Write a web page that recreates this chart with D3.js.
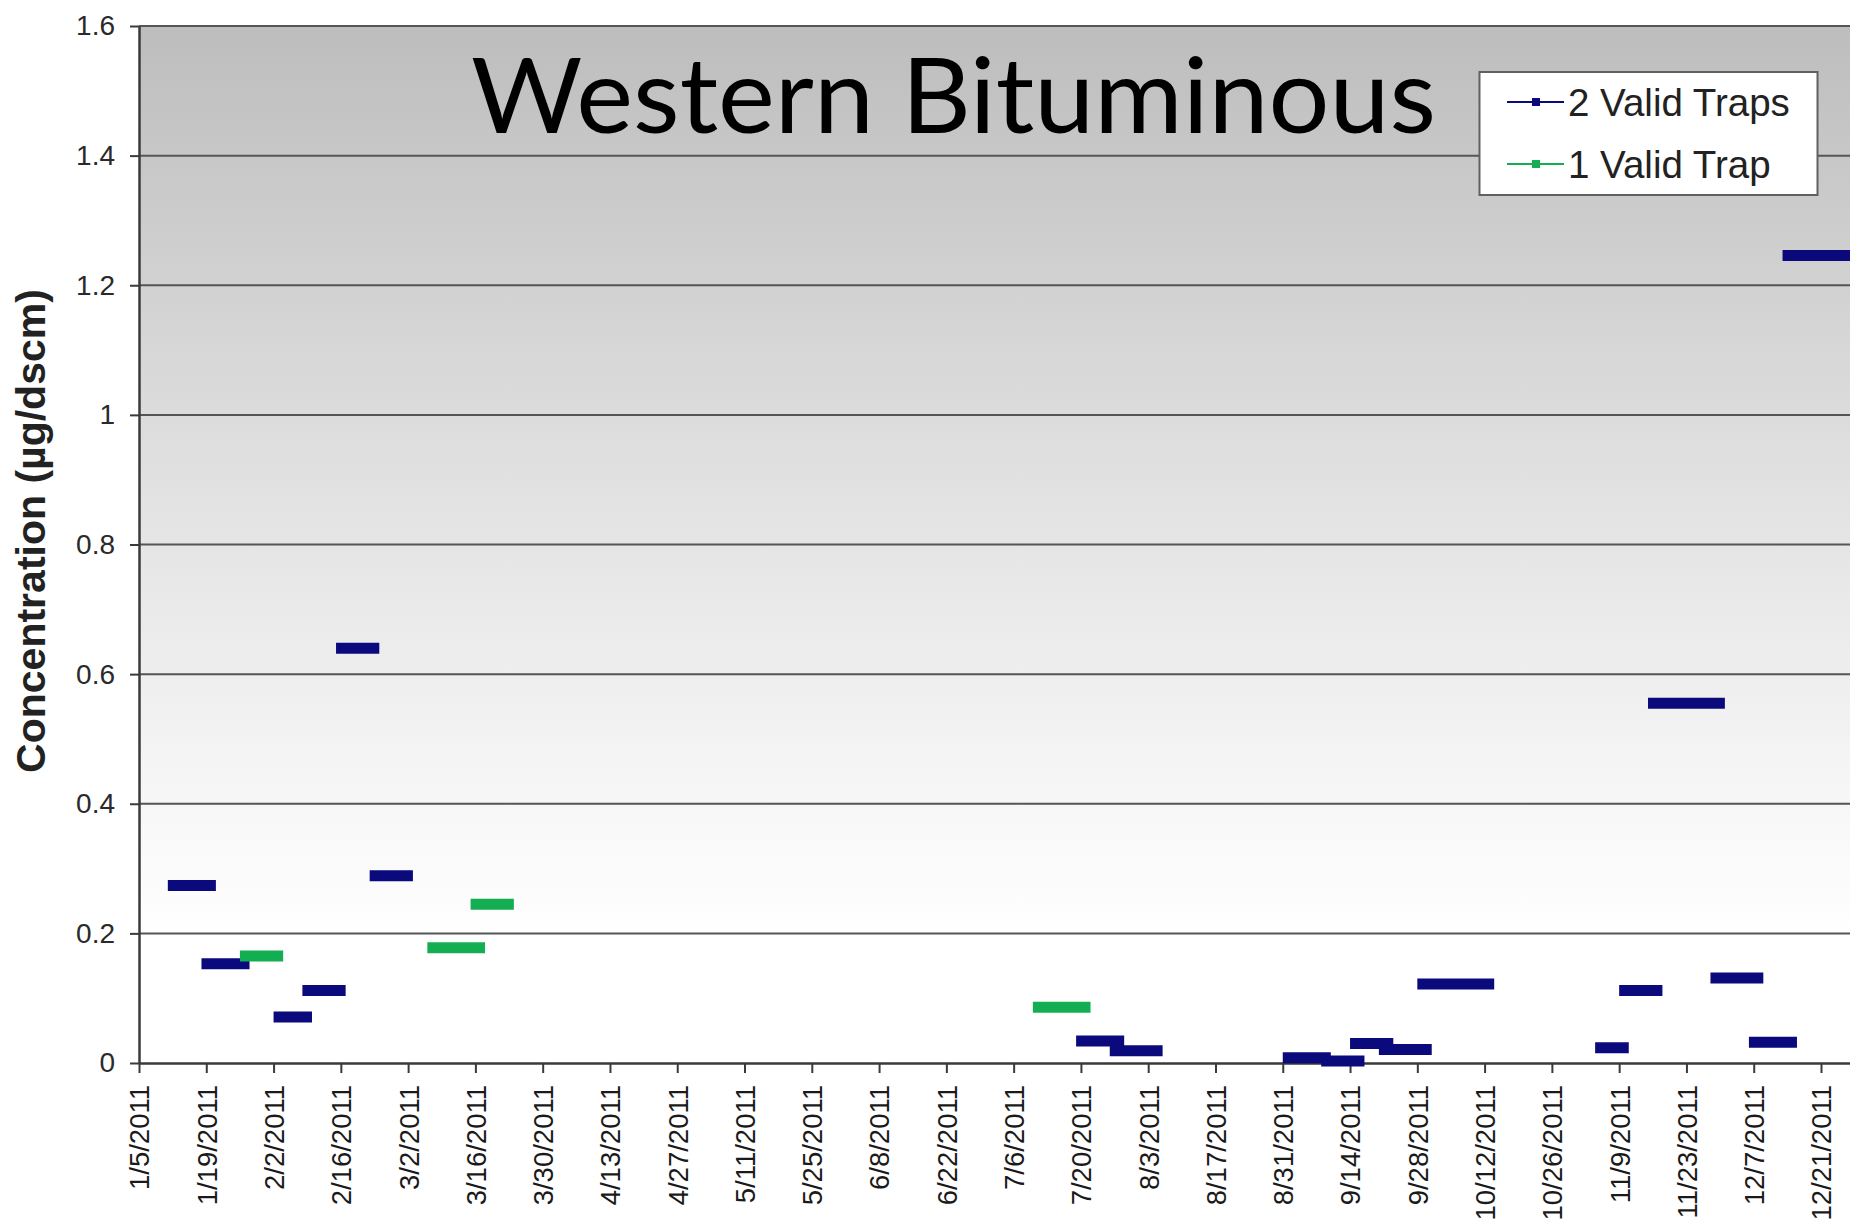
<!DOCTYPE html>
<html>
<head>
<meta charset="utf-8">
<script src="https://cdn.jsdelivr.net/npm/d3@7"></script>
<style>
  body { margin: 0; background: #fff; }
  svg { display: block; }
</style>
</head>
<body>
<div id="chart"></div>
<script>
// sampling periods (visible start / end of each segment)
const twoTrapStart = ["2011-01-11", "2011-01-18", "2011-02-02", "2011-02-08", "2011-02-15", "2011-02-22",
    "2011-07-19", "2011-07-26", "2011-08-31", "2011-09-08", "2011-09-14", "2011-09-20", "2011-09-28",
    "2011-11-04", "2011-11-09", "2011-11-15", "2011-11-28", "2011-12-06", "2011-12-13"];
const twoTrapEnd = ["2011-01-21", "2011-01-28", "2011-02-10", "2011-02-17", "2011-02-24", "2011-03-03",
    "2011-07-29", "2011-08-06", "2011-09-10", "2011-09-17", "2011-09-23", "2011-10-01", "2011-10-14",
    "2011-11-11", "2011-11-18", "2011-12-01", "2011-12-09", "2011-12-16", "2011-12-29"];
const twoTrapValue = [0.274, 0.153, 0.071, 0.112, 0.640, 0.289,
    0.034, 0.019, 0.008, 0.003, 0.030, 0.021, 0.122,
    0.0235, 0.112, 0.555, 0.131, 0.032, 1.246];

const oneTrapStart = ["2011-01-26", "2011-03-06", "2011-03-15", "2011-07-10"];
const oneTrapEnd = ["2011-02-04", "2011-03-18", "2011-03-24", "2011-07-22"];
const oneTrapValue = [0.165, 0.178, 0.245, 0.086];

const xTickDates = ["2011-01-05", "2011-01-19", "2011-02-02", "2011-02-16", "2011-03-02", "2011-03-16",
    "2011-03-30", "2011-04-13", "2011-04-27", "2011-05-11", "2011-05-25", "2011-06-08", "2011-06-22",
    "2011-07-06", "2011-07-20", "2011-08-03", "2011-08-17", "2011-08-31", "2011-09-14", "2011-09-28",
    "2011-10-12", "2011-10-26", "2011-11-09", "2011-11-23", "2011-12-07", "2011-12-21"];
const yTicks = [0, 0.2, 0.4, 0.6, 0.8, 1, 1.2, 1.4, 1.6];
const yTickLabels = ["0", "0.2", "0.4", "0.6", "0.8", "1", "1.2", "1.4", "1.6"];

const seriesNames = ["2 Valid Traps", "1 Valid Trap"];
const seriesColors = ["#0a0a7c", "#14ae52"];

const W = 1850, H = 1229;
const plot = {left: 139, top: 26, right: 1850, bottom: 1063};
const parse = d3.utcParse("%Y-%m-%d");
const axisFont = "'Liberation Sans', Arial, sans-serif";

const svg = d3.select("#chart").append("svg")
    .attr("width", W)
    .attr("height", H);

const defs = svg.append("defs");
const grad = defs.append("linearGradient")
    .attr("id", "bg")
    .attr("x1", 0).attr("y1", 0).attr("x2", 0).attr("y2", 1);
grad.append("stop").attr("offset", "0%").attr("stop-color", "#bdbdbd");
grad.append("stop").attr("offset", "45%").attr("stop-color", "#e2e2e2");
grad.append("stop").attr("offset", "75%").attr("stop-color", "#f7f7f7");
grad.append("stop").attr("offset", "88%").attr("stop-color", "#ffffff");
defs.append("clipPath").attr("id", "clip")
    .append("rect")
    .attr("x", plot.left).attr("y", plot.top - 2)
    .attr("width", plot.right - plot.left).attr("height", plot.bottom - plot.top + 10);

const x = d3.scaleUtc()
    .domain([parse("2011-01-05"), parse("2011-12-21")])
    .range([plot.left, 1821]);
const y = d3.scaleLinear()
    .domain([0, 1.6])
    .range([plot.bottom, plot.top]);

svg.append("rect")
    .attr("x", plot.left).attr("y", plot.top)
    .attr("width", plot.right - plot.left).attr("height", plot.bottom - plot.top)
    .attr("fill", "url(#bg)");

// gridlines
svg.append("g")
    .selectAll("line")
    .data(yTicks.filter(d => d > 0))
    .join("line")
    .attr("x1", plot.left).attr("x2", plot.right)
    .attr("y1", d => y(d)).attr("y2", d => y(d))
    .attr("stroke", "#555")
    .attr("stroke-width", 2);

// y axis
const yAxis = d3.axisLeft(y)
    .tickValues(yTicks)
    .tickFormat((d, i) => yTickLabels[i])
    .tickSize(9)
    .tickPadding(15)
    .tickSizeOuter(0);
const gy = svg.append("g")
    .attr("transform", `translate(${plot.left},0)`)
    .call(yAxis);
gy.select(".domain").attr("stroke", "#3a3a3a").attr("stroke-width", 2.5);
gy.selectAll(".tick line").attr("stroke", "#3a3a3a").attr("stroke-width", 2);
gy.selectAll(".tick text")
    .attr("font-family", axisFont)
    .attr("font-size", 28)
    .attr("fill", "#2a2a2a");

// x axis
const xAxis = d3.axisBottom(x)
    .tickValues(xTickDates.map(parse))
    .tickFormat(d3.utcFormat("%-m/%-d/%Y"))
    .tickSize(10)
    .tickSizeOuter(0);
const gx = svg.append("g")
    .attr("transform", `translate(0,${plot.bottom})`)
    .call(xAxis);
gx.select(".domain")
    .attr("d", `M${plot.left},0.5H${plot.right}`)
    .attr("stroke", "#3a3a3a").attr("stroke-width", 2.5);
gx.selectAll(".tick line").attr("stroke", "#3a3a3a").attr("stroke-width", 2);
gx.selectAll(".tick text")
    .attr("font-family", axisFont)
    .attr("font-size", 27.5)
    .attr("fill", "#1a1a1a")
    .attr("text-anchor", "end")
    .attr("transform", "rotate(-90)")
    .attr("x", -22)
    .attr("y", 0)
    .attr("dy", "0.36em");

// segments
const segs = [];
twoTrapStart.forEach((s, i) => segs.push({s: parse(s), e: parse(twoTrapEnd[i]), v: twoTrapValue[i], k: 0}));
oneTrapStart.forEach((s, i) => segs.push({s: parse(s), e: parse(oneTrapEnd[i]), v: oneTrapValue[i], k: 1}));

svg.append("g")
    .attr("clip-path", "url(#clip)")
    .selectAll("line")
    .data(segs)
    .join("line")
    .attr("x1", d => x(d.s)).attr("x2", d => x(d.e))
    .attr("y1", d => y(d.v)).attr("y2", d => y(d.v))
    .attr("stroke", d => seriesColors[d.k])
    .attr("stroke-width", 11);

// y label
svg.append("text")
    .attr("transform", "translate(45,531) rotate(-90)")
    .attr("text-anchor", "middle")
    .attr("font-family", axisFont)
    .attr("font-weight", "bold")
    .attr("font-size", 41)
    .attr("fill", "#222")
    .text("Concentration (µg/dscm)");

// title
svg.append("text")
    .attr("x", 471)
    .attr("y", 133)
    .attr("font-family", "Lato, 'Open Sans', sans-serif")
    .attr("font-size", 104)
    .attr("textLength", 965)
    .attr("lengthAdjust", "spacingAndGlyphs")
    .attr("fill", "#000")
    .text("Western Bituminous");

// legend
const legend = svg.append("g");
legend.append("rect")
    .attr("x", 1479.5).attr("y", 72)
    .attr("width", 338).attr("height", 123)
    .attr("fill", "#fff")
    .attr("stroke", "#606060")
    .attr("stroke-width", 2);
const rows = legend.selectAll(".row")
    .data(seriesNames)
    .join("g")
    .attr("class", "row")
    .attr("transform", (d, i) => `translate(0,${102 + i * 62})`);
rows.append("line")
    .attr("x1", 1507).attr("x2", 1564)
    .attr("stroke", (d, i) => seriesColors[i])
    .attr("stroke-width", 2);
rows.append("rect")
    .attr("x", 1532).attr("y", -4)
    .attr("width", 8).attr("height", 8)
    .attr("fill", (d, i) => seriesColors[i]);
rows.append("text")
    .attr("x", 1568)
    .attr("dy", "0.36em")
    .attr("font-family", axisFont)
    .attr("font-size", 38.5)
    .attr("fill", "#222")
    .text(d => d);
</script>
</body>
</html>
